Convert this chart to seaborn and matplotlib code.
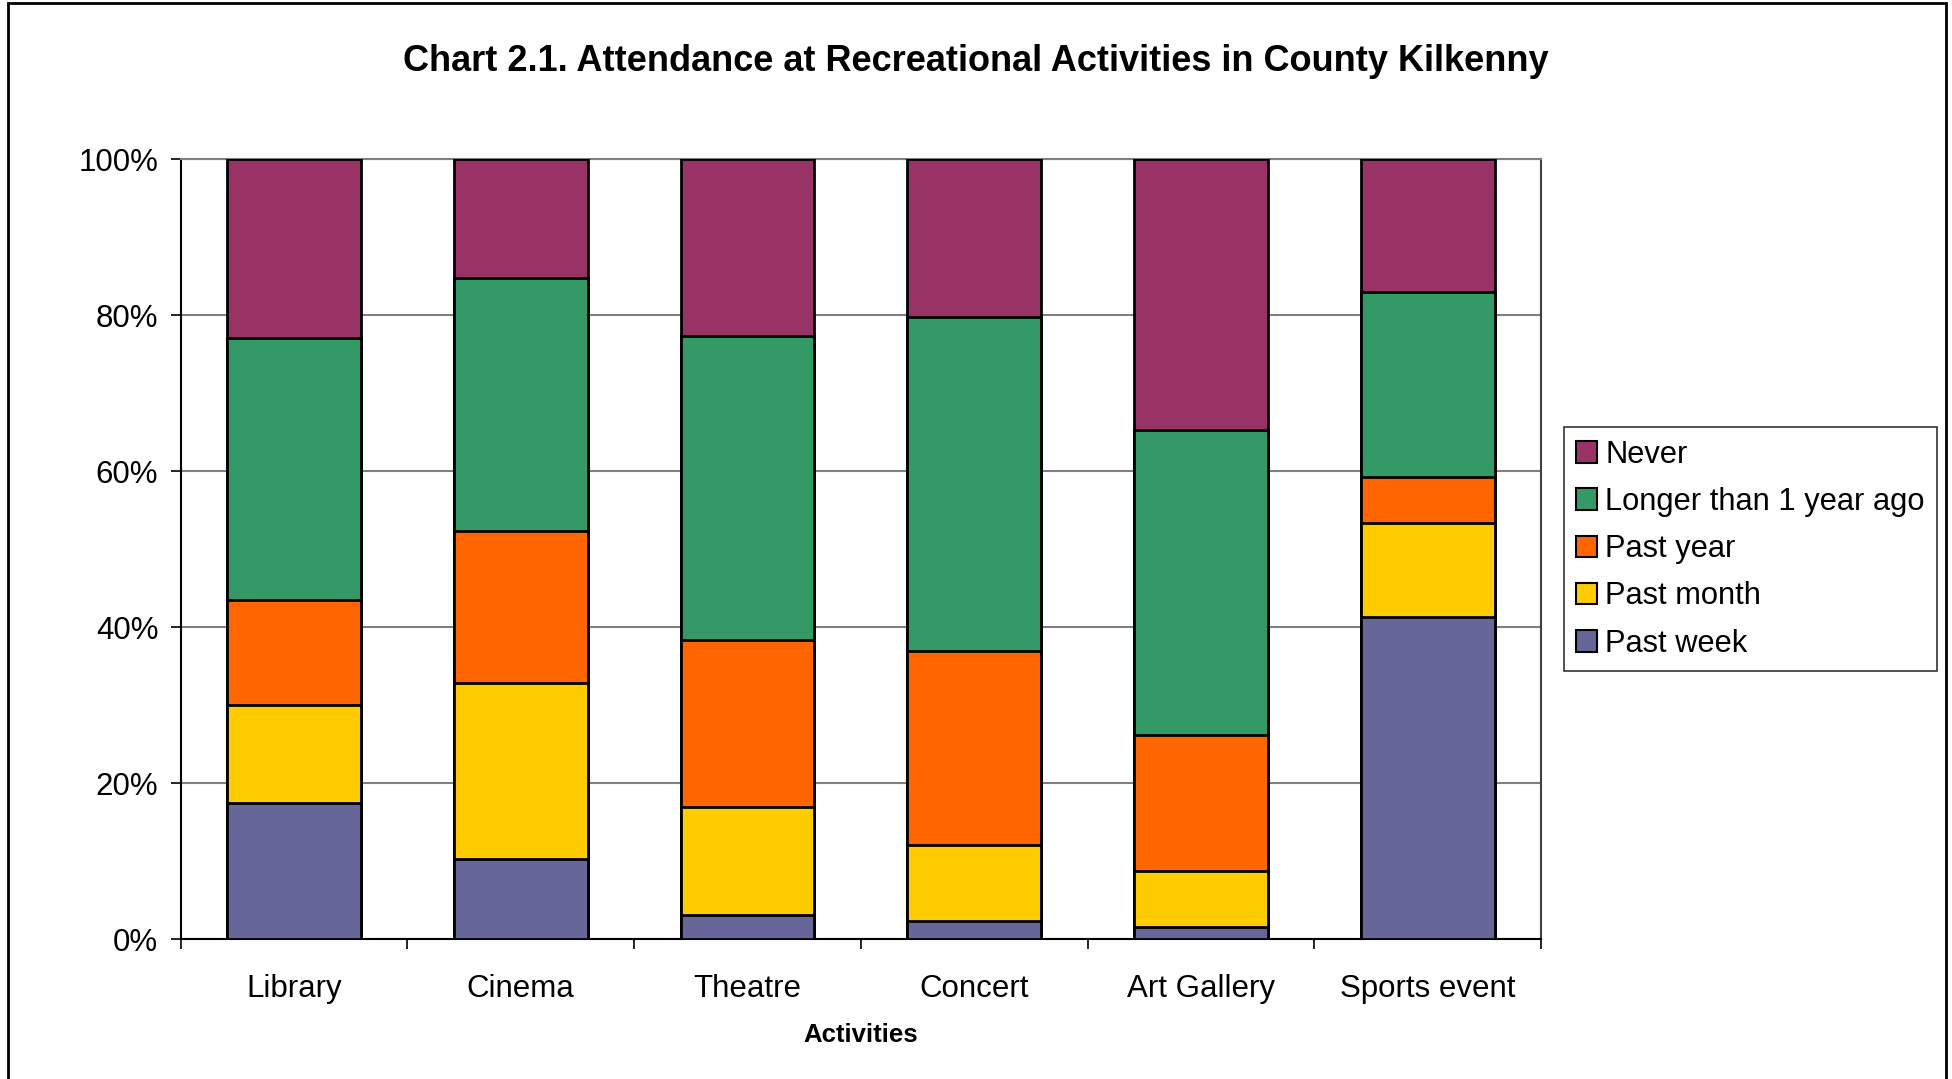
import numpy as np
import pandas as pd
import matplotlib
matplotlib.use("Agg")
import matplotlib.pyplot as plt
import seaborn as sns
from matplotlib.patches import Patch, Rectangle

# data (percent of respondents)
activities = ["Library", "Cinema", "Theatre", "Concert", "Art Gallery", "Sports event"]
past_week = [17.4, 10.2, 3.1, 2.3, 1.5, 41.3]
past_month = [12.6, 22.6, 13.8, 9.8, 7.2, 12.1]
past_year = [13.5, 19.5, 21.5, 24.8, 17.4, 5.8]
longer = [33.6, 32.5, 38.9, 42.8, 39.2, 23.8]
never = [22.9, 15.2, 22.7, 20.3, 34.7, 17.0]

series = ["Past week", "Past month", "Past year", "Longer than 1 year ago", "Never"]
colors = ["#666699", "#FFCC00", "#FF6600", "#339966", "#993366"]

df = pd.DataFrame({"Activity": activities, "Past week": past_week,
                   "Past month": past_month, "Past year": past_year,
                   "Longer than 1 year ago": longer, "Never": never})
# normalise each bar to 100%
df[series] = df[series].div(df[series].sum(axis=1), axis=0) * 100
cum = df[series].cumsum(axis=1)

sns.set_theme(style="white")
plt.rcParams['font.family'] = ['Liberation Sans', 'DejaVu Sans']
plt.rcParams['text.color'] = 'black'
plt.rcParams['xtick.color'] = 'black'
plt.rcParams['ytick.color'] = 'black'
plt.rcParams['axes.labelcolor'] = 'black'

fig = plt.figure(figsize=(19.52, 10.79), dpi=100)
ax = fig.add_axes([0.0925, 0.1297, 0.697, 0.7229])

# stacked bars: draw cumulative totals from the top layer down
for name, col in reversed(list(zip(series, colors))):
    sns.barplot(x=df["Activity"], y=cum[name], color=col, width=0.59,
                edgecolor="black", linewidth=2, saturation=1, ax=ax, zorder=3)

ax.set_ylim(0, 100)
ax.set_xlim(-0.5, 5.5)
ax.set_yticks([0, 20, 40, 60, 80, 100])
ax.set_yticklabels(["0%", "20%", "40%", "60%", "80%", "100%"], fontsize=22.5)
ax.yaxis.grid(True, color="#808080", linewidth=1.5, zorder=0)
ax.set_axisbelow(True)
ax.tick_params(axis="y", left=True, length=7, width=1.2, color="black", pad=9)
ax.tick_params(axis="x", which="major", bottom=False, labelsize=22.5, pad=19)
ax.set_xticks(np.arange(-0.5, 6, 1), minor=True)
ax.tick_params(axis="x", which="minor", bottom=True, length=7, width=1.2, color="black")
ax.set_xlabel("Activities", fontsize=18.5, fontweight="bold", labelpad=14)
ax.set_ylabel("")
for side in ["left", "bottom", "right", "top"]:
    ax.spines[side].set_visible(True)
    ax.spines[side].set_linewidth(1.5)
ax.spines["left"].set_color("black")
ax.spines["bottom"].set_color("black")
ax.spines["right"].set_color("#404040")
ax.spines["top"].set_color("#808080")

fig.text(0.5, 0.943, "Chart 2.1. Attendance at Recreational Activities in County Kilkenny",
         ha="center", va="center", fontsize=26, fontweight="bold")

handles = [Patch(facecolor=c, edgecolor="black", linewidth=1.5) for c in colors]
leg = fig.legend(handles[::-1], series[::-1], loc="upper left",
                 bbox_to_anchor=(0.801, 0.604), fontsize=22.2, frameon=True,
                 fancybox=False, edgecolor="black", handlelength=0.7,
                 handleheight=0.7, handletextpad=0.25, labelspacing=0.56,
                 borderpad=0.4, borderaxespad=0)
leg.get_frame().set_linewidth(1.2)

# outer chart border
fig.patches.append(Rectangle((0.004, -0.01), 0.993, 1.007, transform=fig.transFigure,
                             fill=False, edgecolor="black", linewidth=2))

fig.savefig("out.png", dpi=100)
